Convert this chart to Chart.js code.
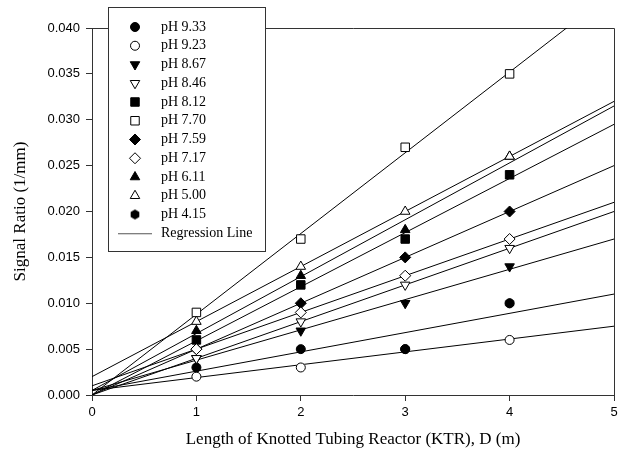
<!DOCTYPE html>
<html>
<head>
<meta charset="utf-8">
<script src="https://cdn.jsdelivr.net/npm/chart.js@4/dist/chart.umd.min.js"></script>
<style>
  html, body { margin: 0; padding: 0; background: #fff; }
</style>
</head>
<body>
<canvas id="ktrChart" width="628" height="456"></canvas>
<script>
// Longitud del reactor KTR (m)
const lengths = [1, 2, 3, 4];

// Relación de señal (1/mm) para cada pH
const ph933 = [0.003, 0.005, 0.005, 0.010];
const ph923 = [0.002, 0.003, 0.005, 0.006];
const ph867 = [0.004, 0.007, 0.010, 0.014];
const ph846 = [0.004, 0.008, 0.012, 0.016];
const ph812 = [0.006, 0.012, 0.017, 0.024];
const ph770 = [0.009, 0.017, 0.027, 0.035];
const ph759 = [0.005, 0.010, 0.015, 0.020];
const ph717 = [0.005, 0.009, 0.013, 0.017];
const ph611 = [0.007, 0.013, 0.018, 0.026];
const ph500 = [0.008, 0.014, 0.020, 0.026];
const ph415 = [null, null, null, 0.010];

const seriesLabels = ['pH 9.33', 'pH 9.23', 'pH 8.67', 'pH 8.46', 'pH 8.12', 'pH 7.70',
                      'pH 7.59', 'pH 7.17', 'pH 6.11', 'pH 5.00', 'pH 4.15'];
const seriesValues = [ph933, ph923, ph867, ph846, ph812, ph770, ph759, ph717, ph611, ph500, ph415];

const xTicks = [0, 1, 2, 3, 4, 5];
const yMax = 0.040;
const yStep = 0.005;

// Hexágono negro para pH 4.15
function hexagon(r) {
    const c = document.createElement('canvas');
    c.width = c.height = 2 * r + 2;
    const g = c.getContext('2d');
    g.beginPath();
    for (let k = 0; k < 6; k++) {
        const a = Math.PI / 3 * k - Math.PI / 2;
        g.lineTo(r + 1 + r * Math.cos(a), r + 1 + r * Math.sin(a));
    }
    g.closePath();
    g.fillStyle = '#000';
    g.fill();
    return c;
}

// Estilo de marcador por serie
const markers = [
    { style: 'circle', fill: '#000', r: 4.5, rot: 0 },
    { style: 'circle', fill: '#fff', r: 4.5, rot: 0 },
    { style: 'triangle', fill: '#000', r: 5.5, rot: 180 },
    { style: 'triangle', fill: '#fff', r: 5.5, rot: 180 },
    { style: 'rect', fill: '#000', r: 6, rot: 0 },
    { style: 'rect', fill: '#fff', r: 6, rot: 0 },
    { style: 'rectRot', fill: '#000', r: 5.5, rot: 0 },
    { style: 'rectRot', fill: '#fff', r: 5.5, rot: 0 },
    { style: 'triangle', fill: '#000', r: 5.5, rot: 0 },
    { style: 'triangle', fill: '#fff', r: 5.5, rot: 0 },
    { style: hexagon(5), fill: '#000', r: 5, rot: 0 }
];

// Regresión lineal por mínimos cuadrados
function fitLine(xs, ys) {
    const pts = xs.map((x, i) => [x, ys[i]]).filter(p => p[1] !== null);
    if (pts.length < 2) return null;
    const mx = pts.reduce((s, p) => s + p[0], 0) / pts.length;
    const my = pts.reduce((s, p) => s + p[1], 0) / pts.length;
    let sxy = 0, sxx = 0;
    pts.forEach(p => { sxy += (p[0] - mx) * (p[1] - my); sxx += (p[0] - mx) ** 2; });
    const slope = sxy / sxx;
    return { slope, intercept: my - slope * mx };
}

const datasets = [];
seriesValues.forEach((vals, i) => {
    const m = markers[i];
    datasets.push({
        label: seriesLabels[i],
        type: 'scatter',
        data: lengths.map((x, j) => ({ x: x, y: vals[j] })).filter(p => p.y !== null),
        pointStyle: m.style,
        pointRotation: m.rot,
        pointRadius: m.r,
        pointBackgroundColor: m.fill,
        pointBorderColor: '#000',
        pointBorderWidth: 1,
        // pH 9.23 queda debajo de pH 9.33
        order: i === 1 ? 30 : 20 - i
    });
    const fit = fitLine(lengths, vals);
    if (fit) {
        const x0 = xTicks[0], x1 = xTicks[xTicks.length - 1];
        datasets.push({
            label: 'Regression Line',
            type: 'line',
            data: [{ x: x0, y: fit.intercept + fit.slope * x0 }, { x: x1, y: fit.intercept + fit.slope * x1 }],
            borderColor: '#000',
            borderWidth: 1,
            pointRadius: 0,
            fill: false,
            order: 100
        });
    }
});

// Leyenda en recuadro dentro del gráfico
const boxLegend = {
    id: 'boxLegend',
    afterDraw(chart) {
        const ctx = chart.ctx;
        const left = 108, top = 7, width = 157, height = 244;
        const rowH = 18.75, firstRow = 27;
        ctx.save();
        ctx.fillStyle = '#fff';
        ctx.fillRect(left, top, width, height);
        ctx.strokeStyle = '#333';
        ctx.lineWidth = 1;
        ctx.strokeRect(left + 0.5, top + 0.5, width, height);
        ctx.font = '14px "Liberation Serif", "Times New Roman", serif';
        ctx.textBaseline = 'middle';
        seriesLabels.forEach((label, i) => {
            const y = firstRow + i * rowH;
            const m = markers[i];
            ctx.fillStyle = m.fill;
            ctx.strokeStyle = '#000';
            ctx.lineWidth = 1;
            Chart.helpers.drawPoint(ctx, { pointStyle: m.style, radius: m.r, rotation: m.rot, borderWidth: 1 }, 135, y);
            ctx.fillStyle = '#000';
            ctx.fillText(label, 161, y);
        });
        const yReg = firstRow + seriesLabels.length * rowH;
        ctx.strokeStyle = '#555';
        ctx.beginPath();
        ctx.moveTo(118, yReg + 0.5);
        ctx.lineTo(152, yReg + 0.5);
        ctx.stroke();
        ctx.fillStyle = '#000';
        ctx.fillText('Regression Line', 161, yReg);
        ctx.restore();
    }
};

// Marco superior y derecho del área de trazado
const plotFrame = {
    id: 'plotFrame',
    beforeDatasetsDraw(chart) {
        const { ctx, chartArea: a } = chart;
        ctx.save();
        ctx.strokeStyle = '#333';
        ctx.lineWidth = 1;
        ctx.beginPath();
        ctx.moveTo(a.left, Math.round(a.top) + 0.5);
        ctx.lineTo(Math.round(a.right) + 0.5, Math.round(a.top) + 0.5);
        ctx.lineTo(Math.round(a.right) + 0.5, a.bottom);
        ctx.stroke();
        ctx.restore();
    }
};

const ctx = document.getElementById('ktrChart').getContext('2d');
const ktrChart = new Chart(ctx, {
    type: 'scatter',
    data: { datasets: datasets },
    options: {
        responsive: false,
        animation: false,
        layout: { padding: { left: 0, top: 28, right: 14, bottom: 0 } },
        plugins: {
            legend: { display: false },
            tooltip: { enabled: false }
        },
        scales: {
            x: {
                type: 'linear',
                min: xTicks[0],
                max: xTicks[xTicks.length - 1],
                afterFit: s => { s.height = 61; },
                afterBuildTicks: s => { s.ticks = xTicks.map(v => ({ value: v })); },
                ticks: {
                    color: '#000',
                    font: { family: '"Liberation Sans", Arial, sans-serif', size: 13 },
                    padding: 4
                },
                grid: { drawOnChartArea: false, drawTicks: true, tickLength: 6, color: '#333' },
                border: { display: true, color: '#333', width: 1 },
                title: {
                    display: true,
                    text: 'Length of Knotted Tubing Reactor (KTR), D (m)',
                    color: '#000',
                    font: { family: '"Liberation Serif", "Times New Roman", serif', size: 17 },
                    padding: { top: 0, bottom: 6 }
                }
            },
            y: {
                type: 'linear',
                min: 0,
                max: yMax,
                afterFit: s => { s.width = 92; },
                ticks: {
                    stepSize: yStep,
                    color: '#000',
                    font: { family: '"Liberation Sans", Arial, sans-serif', size: 13 },
                    padding: 6,
                    callback: v => v.toFixed(3)
                },
                grid: { drawOnChartArea: false, drawTicks: true, tickLength: 6, color: '#333' },
                border: { display: true, color: '#333', width: 1 },
                title: {
                    display: true,
                    text: 'Signal Ratio (1/mm)',
                    color: '#000',
                    font: { family: '"Liberation Serif", "Times New Roman", serif', size: 17 },
                    padding: { top: 10, bottom: 0 }
                }
            }
        }
    },
    plugins: [plotFrame, boxLegend]
});
</script>
</body>
</html>
